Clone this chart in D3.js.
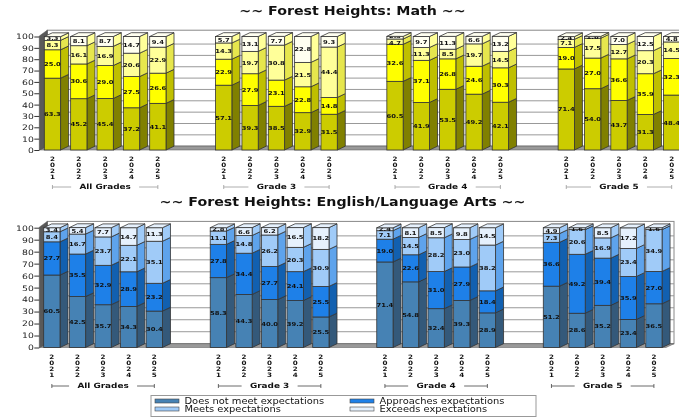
<!DOCTYPE html>
<html>
<head>
<meta charset="utf-8">
<script src="https://cdn.jsdelivr.net/npm/d3@7"></script>
<style>
  body { margin: 0; background: #fff; overflow: hidden; }
  svg { display: block; filter: blur(0.35px); }
  text { font-family: "DejaVu Sans", sans-serif; fill: #111; }
  .axis text { font-size: 7.5px; font-weight: normal; fill: #222; }
  .axis path { display: none; }
  .axis line { stroke: #333; }
</style>
</head>
<body>
<div id="chart"></div>
<script>
var width = 679;
var height = 417;

var years = ["2021", "2022", "2023", "2024", "2025"];
var grades = ["All Grades", "Grade 3", "Grade 4", "Grade 5"];
var levels = ["Does not meet expectations", "Approaches expectations", "Meets expectations", "Exceeds expectations"];

// one row per bar, groups of five, bottom segment first
var mathValues = [
  [63.3, 25.0, 8.3, 3.3], [45.2, 30.6, 16.1, 8.1], [45.4, 29.0, 16.9, 8.7], [37.2, 27.5, 20.6, 14.7], [41.1, 26.6, 22.9, 9.4],
  [57.1, 22.9, 14.3, 5.7], [39.3, 27.9, 19.7, 13.1], [38.5, 23.1, 30.8, 7.7], [32.9, 22.8, 21.5, 22.8], [31.5, 14.8, 44.4, 9.3],
  [60.5, 32.6, 4.7, 2.3], [41.9, 37.1, 11.3, 9.7], [53.5, 26.8, 8.5, 11.3], [49.2, 24.6, 19.7, 6.6], [42.1, 30.3, 14.5, 13.2],
  [71.4, 19.0, 7.1, 2.4], [54.0, 27.0, 17.5, 1.6], [43.7, 36.6, 12.7, 7.0], [31.3, 35.9, 20.3, 12.5], [48.4, 32.3, 14.5, 4.8]
];
var elaValues = [
  [60.5, 27.7, 8.4, 3.4], [42.5, 35.5, 16.7, 5.4], [35.7, 32.9, 23.7, 7.7], [34.3, 28.9, 22.1, 14.7], [30.4, 23.2, 35.1, 11.3],
  [58.3, 27.8, 11.1, 2.8], [44.3, 34.4, 14.8, 6.6], [40.0, 27.7, 26.2, 6.2], [39.2, 24.1, 20.3, 16.5], [25.5, 25.5, 30.9, 18.2],
  [71.4, 19.0, 7.1, 2.4], [54.8, 22.6, 14.5, 8.1], [32.4, 31.0, 28.2, 8.5], [39.3, 27.9, 23.0, 9.8], [28.9, 18.4, 38.2, 14.5],
  [51.2, 36.6, 7.3, 4.9], [28.6, 49.2, 20.6, 1.6], [35.2, 39.4, 16.9, 8.5], [23.4, 35.9, 23.4, 17.2], [36.5, 27.0, 34.9, 1.6]
];

var mathFront = ["#cccc00", "#ffff00", "#ffff99", "#fffff0"];
var mathSide = ["#808000", "#bfbf00", "#e6e64d", "#ffff99"];
var elaFront = ["#4682b4", "#1e80e8", "#a0cbf8", "#e6f1fd"];
var elaSide = ["#34597a", "#1260b0", "#5ea3ec", "#a0cbf8"];

var svg = d3.select("#chart")
  .append("svg")
  .attr("width", width)
  .attr("height", height);

// the original type is wider than any installed font
var widen = 1.235;
function stretch(sel) {
  sel.each(function() {
    d3.select(this)
      .attr("textLength", this.getComputedTextLength() * widen)
      .attr("lengthAdjust", "spacingAndGlyphs");
  });
}

function drawChart(opt) {
  var dx = 8, dy = 3.8;
  var barWidth = 16.3;

  var y = d3.scaleLinear().domain([0, 100]).range([opt.y0, opt.y100]);
  // slot position along the front plane, groups sit 6.5 slots apart
  var x = d3.scaleLinear().domain([0, 1]).range([opt.left, opt.left + opt.step]);
  var slot = function(i) { return Math.floor(i / 5) * 6.5 + i % 5; };

  var g = svg.append("g");

  // back wall and gridlines
  g.append("rect")
    .attr("x", opt.wallX + dx)
    .attr("y", y(100) - dy - 2.5)
    .attr("width", opt.wallRight - opt.wallX - dx)
    .attr("height", y(0) - y(100) + 2.5)
    .attr("fill", "#fff")
    .attr("stroke", "#888")
    .attr("stroke-width", 1);

  g.selectAll(".grid")
    .data(d3.range(0, 100, 10))
    .enter()
    .append("line")
      .attr("x1", opt.wallX + dx)
      .attr("x2", opt.wallRight)
      .attr("y1", function(d) { return y(d) - dy; })
      .attr("y2", function(d) { return y(d) - dy; })
      .attr("stroke", "#999")
      .attr("stroke-width", 1);

  // floor
  g.append("polygon")
    .attr("points", [
      [opt.wallX, y(0)], [opt.wallX + dx, y(0) - dy],
      [opt.wallRight, y(0) - dy], [opt.wallRight - dx, y(0)]
    ].join(" "))
    .attr("fill", "#999")
    .attr("stroke", "#555")
    .attr("stroke-width", 0.5);

  // left wall
  g.append("polygon")
    .attr("points", [
      [opt.wallX, y(0)], [opt.wallX + dx, y(0) - dy],
      [opt.wallX + dx, y(100) - dy - 2.5], [opt.wallX, y(100) - 0.5]
    ].join(" "))
    .attr("fill", "#595959")
    .attr("stroke", "#444")
    .attr("stroke-width", 0.5);

  // y axis
  var axis = d3.axisLeft(y)
    .tickValues(d3.range(0, 101, 10))
    .tickSize(5)
    .tickPadding(0.5);
  var axisG = svg.append("g")
    .attr("class", "axis")
    .attr("transform", "translate(" + opt.wallX + ",0)")
    .call(axis);
  axisG.selectAll("text").call(stretch);

  // bars
  opt.values.forEach(function(row, i) {
    var bx = x(slot(i));
    var bar = g.append("g");
    var cum = 0;
    // two thin top segments: push their labels apart
    var nudge = (row[2] + row[3]) / 2 < 4 ? 1.3 : 0;
    row.forEach(function(v, k) {
      var top = y(cum + v);
      var bottom = y(cum);
      cum += v;
      bar.append("polygon")
        .attr("points", [
          [bx + barWidth, bottom], [bx + barWidth + dx, bottom - dy],
          [bx + barWidth + dx, top - dy], [bx + barWidth, top]
        ].join(" "))
        .attr("fill", opt.side[k])
        .attr("stroke", "#333")
        .attr("stroke-width", 0.8);
      bar.append("rect")
        .attr("x", bx)
        .attr("y", top)
        .attr("width", barWidth)
        .attr("height", bottom - top)
        .attr("fill", opt.front[k])
        .attr("stroke", "#333")
        .attr("stroke-width", 0.8);
      bar.append("text")
        .attr("x", bx + barWidth / 2)
        .attr("y", (top + bottom) / 2 + 2 + (k === 3 ? -nudge : k === 2 ? nudge : 0))
        .attr("text-anchor", "middle")
        .attr("font-size", 5.5)
        .attr("font-weight", "bold")
        .text(v.toFixed(1))
        .call(stretch);
      if (k === 3) {
        bar.append("polygon")
          .attr("points", [
            [bx, top], [bx + dx, top - dy],
            [bx + barWidth + dx, top - dy], [bx + barWidth, top]
          ].join(" "))
          .attr("fill", opt.front[3])
          .attr("stroke", "#333")
          .attr("stroke-width", 0.8);
      }
    });

    // year written downwards, one digit per row
    var yearX = bx + barWidth / 2;
    var yearText = svg.append("text")
      .attr("transform", "translate(" + yearX + "," + opt.yearTop + ") scale(1.2,1)")
      .attr("text-anchor", "middle")
      .attr("font-size", 6)
      .attr("font-weight", "bold");
    years[i % 5].split("").forEach(function(c, n) {
      yearText.append("tspan")
        .attr("x", 0)
        .attr("y", n * 5.9)
        .text(c);
    });
  });

  // grade brackets
  grades.forEach(function(name, j) {
    var x1 = x(slot(j * 5)) + barWidth / 2;
    var x2 = x(slot(j * 5 + 4)) + barWidth / 2;
    var mid = (x1 + x2) / 2;
    var gap = j === 0 ? 34 : 28;
    var br = svg.append("g")
      .attr("stroke", opt.bracket)
      .attr("stroke-width", 0.8);
    br.append("line").attr("x1", x1).attr("x2", mid - gap).attr("y1", opt.bracketY).attr("y2", opt.bracketY);
    br.append("line").attr("x1", mid + gap).attr("x2", x2).attr("y1", opt.bracketY).attr("y2", opt.bracketY);
    br.append("line").attr("x1", x1).attr("x2", x1).attr("y1", opt.bracketY - 2).attr("y2", opt.bracketY + 2);
    br.append("line").attr("x1", x2).attr("x2", x2).attr("y1", opt.bracketY - 2).attr("y2", opt.bracketY + 2);
    svg.append("text")
      .attr("x", mid)
      .attr("y", opt.bracketY + 1.8)
      .attr("text-anchor", "middle")
      .attr("font-size", 7.2)
      .attr("font-weight", "bold")
      .attr("fill", "#333")
      .text(name)
      .call(stretch);
  });

  svg.append("text")
    .attr("x", opt.titleX)
    .attr("y", opt.titleY)
    .attr("text-anchor", "middle")
    .attr("font-size", 11.5)
    .attr("font-weight", "bold")
    .text(opt.title)
    .call(stretch);
}

drawChart({
  title: "~~ Forest Heights: Math ~~",
  titleX: 352.5, titleY: 15,
  values: mathValues, front: mathFront, side: mathSide,
  left: 44.3, step: 26.35,
  y0: 150, y100: 36.5,
  wallX: 39.3, wallRight: 689,
  yearTop: 161, bracketY: 187, bracket: "#999"
});

drawChart({
  title: "~~ Forest Heights: English/Language Arts ~~",
  titleX: 342.5, titleY: 205.5,
  values: elaValues, front: elaFront, side: elaSide,
  left: 43.7, step: 25.62,
  y0: 347.5, y100: 227.7,
  wallX: 39.3, wallRight: 674,
  yearTop: 359, bracketY: 386, bracket: "#444"
});

// legend
var legend = svg.append("g");
legend.append("rect")
  .attr("x", 151)
  .attr("y", 395.5)
  .attr("width", 385)
  .attr("height", 21)
  .attr("fill", "#fff")
  .attr("stroke", "#999");

var legendX = d3.scaleOrdinal().domain(levels).range([155, 350, 155, 350]);
var legendY = d3.scaleOrdinal().domain(levels).range([401, 401, 409, 409]);

legend.selectAll(".swatch")
  .data(levels)
  .enter()
  .append("rect")
    .attr("x", function(d) { return legendX(d); })
    .attr("y", function(d) { return legendY(d) - 2; })
    .attr("width", 24)
    .attr("height", 4)
    .attr("fill", function(d, i) { return elaFront[i]; })
    .attr("stroke", "#444")
    .attr("stroke-width", 0.6);

legend.selectAll(".label")
  .data(levels)
  .enter()
  .append("text")
    .attr("x", function(d) { return legendX(d) + 29.5; })
    .attr("y", function(d) { return legendY(d) + 3; })
    .attr("font-size", 8)
    .attr("fill", "#222")
    .text(function(d) { return d; })
    .call(stretch);
</script>
</body>
</html>
